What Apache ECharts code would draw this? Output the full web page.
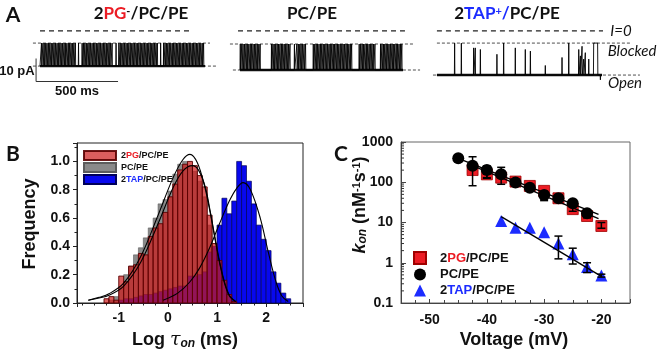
<!DOCTYPE html>
<html>
<head>
<meta charset="utf-8">
<script src="https://cdn.jsdelivr.net/npm/echarts@6/dist/echarts.min.js"></script>
<style>
html, body { margin: 0; padding: 0; background: #fff; }
#main { width: 658px; height: 356px; }
</style>
</head>
<body>
<div id="main"></div>
<script>
// ---- panel A: single-channel current traces (time in ms, current in pA) ----
// levels: [I=0, blocked, open]
var levelsPG = [0, -5.3, -15.3];
var levelsPC = [0, -5.7, -17.0];
var levelsTAP = [0, -5.3, -19.2];
// guide line extents [start, end] in ms: I=0, blocked, open
var guidesPG = [[61, 994], [18, 1098], [18, 1146]];
var guidesPC = [[61, 1079], [12, 1128], [30, 1171]];
var guidesTAP = [[30, 1043], [30, 1207], [6, 1268]];
// recorded span of each trace
var spanPG = [61, 1067];
var spanPC = [73, 1067];
var spanTAP = [30, 1037];
// blocking events (ms)
var spikesPG = [70, 79, 87, 96, 104, 113, 121, 130, 139, 147, 156, 165, 173, 182, 190, 199, 208, 216, 225, 234, 242, 251, 260, 268, 277,
    296, 318, 327, 335, 344, 353, 361, 370, 379, 388, 396, 405, 414, 422, 431, 440, 449, 457, 466, 475, 483, 492, 501,
    525, 542, 551, 560, 568, 577, 586, 594, 603, 612, 621, 629, 638, 647, 655, 664, 673, 682, 690, 699, 708, 716, 725, 734, 743, 751, 760, 769, 777,
    797, 815, 824, 833, 841, 850, 859, 868, 876, 885, 894, 902, 911, 920, 929, 937, 946, 955, 963, 972, 981, 990, 998, 1007, 1016, 1024, 1033, 1042, 1051, 1059];
var spikesPC = [75, 84, 92, 101, 110, 118, 127, 136, 144, 153, 162, 170, 179, 188, 196,
    265, 274, 282, 291, 300, 308, 317, 326, 334, 343, 352, 360, 369, 378,
    405, 420, 429, 438, 446, 455, 464, 473,
    520, 529, 538, 546, 555, 564, 572, 581, 590, 598, 607, 616, 624, 633, 642, 650, 659, 668, 676, 685, 694, 702, 711, 720, 728, 737, 746, 754,
    800, 809, 818, 826, 835, 844, 852, 861, 870, 878, 887, 896,
    930, 939, 948, 956, 965, 974, 982, 991, 1000, 1008, 1017, 1026, 1034, 1043, 1052, 1060];
// [time ms, fraction of full block, dwell ms]
var spikesTAP = [[138, 1], [179, 1], [254, 0.85], [264, 0.85], [295, 0.8], [396, 0.65], [437, 1], [508, 0.85], [569, 0.8],
    [600, 0.75], [691, 0.3], [793, 0.55], [834, 1], [895, 0.8], [905, 0.6], [915, 0.9], [925, 0.5], [935, 0.7], [956, 0.5],
    [986, 1, 24], [1027, -0.15]];
// scale bar: 10 pA / 500 ms
var scaleBar = [[37, -12], [37, -22], [537, -22]];

// ---- panel B: dwell-time histograms ----
var binWidth = 0.1;
var binCenters = [-1.25, -1.15, -1.05, -0.95, -0.85, -0.75, -0.65, -0.55, -0.45, -0.35, -0.25, -0.15, -0.05,
    0.05, 0.15, 0.25, 0.35, 0.45, 0.55, 0.65, 0.75, 0.85, 0.95, 1.05, 1.15, 1.25, 1.35, 1.45, 1.55, 1.65, 1.75,
    1.85, 1.95, 2.05, 2.15, 2.25, 2.35, 2.45];
var histPG = [0.03, 0.045, 0.02, 0.19, 0.15, 0.26, 0.27, 0.35, 0.34, 0.47, 0.53, 0.56, 0.64,
    0.75, 0.84, 0.94, 0.98, 1.0, 0.97, 0.90, 0.82, 0.62, 0.42, 0.30, 0.16, 0.06, 0.01, 0, 0, 0, 0,
    0, 0, 0, 0, 0, 0, 0];
var histPC = [0, 0.02, 0.045, 0.115, 0.20, 0.26, 0.34, 0.39, 0.46, 0.53, 0.60, 0.70, 0.73,
    0.79, 0.91, 0.98, 1.0, 0.97, 0.93, 0.86, 0.75, 0.55, 0.36, 0.18, 0.07, 0.02, 0, 0, 0, 0, 0,
    0, 0, 0, 0, 0, 0, 0];
var histTAP = [0, 0, 0, 0.02, 0.03, 0.03, 0.04, 0.05, 0.06, 0.06, 0.07, 0.08, 0.09,
    0.10, 0.11, 0.12, 0.12, 0.19, 0.19, 0.20, 0.22, 0.36, 0.40, 0.55, 0.74, 0.63, 0.72, 1.0, 0.97, 0.86, 0.70,
    0.55, 0.45, 0.37, 0.22, 0.14, 0.07, 0.03];
var fitPC = [[-1.62, 0.02], [-1.4, 0.04], [-1.2, 0.065], [-0.9, 0.14], [-0.55, 0.33], [-0.2, 0.62], [0.1, 0.88],
    [0.3, 1.01], [0.45, 1.05], [0.6, 0.99], [0.75, 0.82], [0.86, 0.64], [0.96, 0.45], [1.06, 0.27], [1.16, 0.13],
    [1.26, 0.045], [1.38, 0.01]];
var fitPG = [[-1.62, 0.02], [-1.4, 0.035], [-1.2, 0.055], [-0.9, 0.12], [-0.55, 0.29], [-0.2, 0.56], [0.1, 0.81],
    [0.3, 0.93], [0.5, 0.97], [0.62, 0.94], [0.76, 0.82], [0.86, 0.65], [0.96, 0.46], [1.06, 0.28], [1.16, 0.14],
    [1.26, 0.05], [1.38, 0.01]];
var fitTAP = [[-0.1, 0.02], [0.2, 0.07], [0.45, 0.15], [0.65, 0.25], [0.85, 0.39], [1.05, 0.56], [1.25, 0.72],
    [1.4, 0.81], [1.53, 0.85], [1.68, 0.8], [1.88, 0.6], [2.05, 0.35], [2.2, 0.15], [2.32, 0.05], [2.45, 0.01]];

// ---- panel C: kon vs voltage ----
var voltPG = [-42.5, -40, -37.5, -35, -32.5, -30, -27.5, -25, -22.5, -20];
var konPG = [201, 157, 130, 104, 81, 61, 40, 21.5, 14.5, 8.2];
var voltPC = [-45, -42.5, -40, -37.5, -35, -32.5, -30, -27.5, -25, -22.5];
var konPC = [393, 258, 201, 157, 98, 73, 48, 40, 30, 17];
var voltTAP = [-37.5, -35, -32.5, -30, -27.5, -25, -22.5, -20];
var konTAP = [10.9, 7.4, 7.4, 5.7, 3.0, 1.62, 0.78, 0.48];
// [voltage, low, high]
var errPG = [[-40, 130, 200], [-25, 19, 25], [-22.5, 13, 16.5], [-20, 7.2, 10]];
var errPC = [[-42.5, 82, 430], [-40, 125, 254], [-37.5, 89, 235], [-30, 35, 60], [-25, 26, 34], [-22.5, 15, 20]];
var errTAP = [[-27.5, 1.25, 4.6], [-25, 0.93, 2.3], [-22.5, 0.57, 1.0], [-20, 0.44, 0.52]];
var lineFitPC = [[-45, 390], [-20.5, 16]];
var lineFitPG = [[-42.5, 260], [-20.5, 12.5]];
var lineFitTAP = [[-37.5, 14], [-20, 0.46]];
var logMinorTicks = [0.2, 0.3, 0.4, 0.5, 0.6, 0.7, 0.8, 0.9, 2, 3, 4, 5, 6, 7, 8, 9, 20, 30, 40, 50, 60, 70, 80, 90,
    200, 300, 400, 500, 600, 700, 800, 900];

var RED = '#ec1c24';
var BLUE = '#1c2cff';
var FT = 'Lato, "Noto Sans", sans-serif';
var FA = '"Liberation Sans", Arial, sans-serif';

function traceLine(events, lv, span) {
    var open = lv[2], blocked = lv[1];
    var pts = [[span[0], open]];
    events.forEach(function (e) {
        var t = typeof e === 'number' ? e : e[0];
        var f = typeof e === 'number' ? 1 : e[1];
        var d = typeof e === 'number' ? 0 : (e[2] || 0);
        var peak = open + f * (blocked - open);
        pts.push([t - 1.5, open], [t, peak]);
        if (d) pts.push([t + d, peak]);
        pts.push([t + d + 1.5, open]);
    });
    pts.push([span[1], open]);
    return pts;
}

function traceSeries(idx, events, lv, span, guides) {
    var out = [];
    var dashStyles = [
        {color: '#222', width: 1.2, type: [5, 4]},
        {color: '#222', width: 0.8, type: [3, 2]},
        {color: '#222', width: 0.8, type: [3, 2]}
    ];
    guides.forEach(function (g, i) {
        out.push({
            type: 'line', xAxisIndex: idx, yAxisIndex: idx, symbol: 'none', silent: true,
            lineStyle: dashStyles[i],
            data: [[g[0], lv[i]], [g[1], lv[i]]]
        });
    });
    out.push({
        type: 'line', xAxisIndex: idx, yAxisIndex: idx, symbol: 'none', silent: true,
        lineStyle: {color: '#111', width: 2.4},
        data: [[span[0], lv[2]], [span[1], lv[2]]]
    });
    out.push({
        type: 'line', xAxisIndex: idx, yAxisIndex: idx, symbol: 'none', silent: true,
        lineStyle: {color: '#000', width: 0.9},
        data: traceLine(events, lv, span)
    });
    return out;
}

function histItem(params, api) {
    var x = api.value(0), y = api.value(1);
    if (!(y > 0)) return null;
    var p0 = api.coord([x - binWidth / 2, y]);
    var p1 = api.coord([x + binWidth / 2, 0]);
    return {
        type: 'rect',
        shape: {x: p0[0], y: p0[1], width: p1[0] - p0[0], height: p1[1] - p0[1]},
        style: api.style()
    };
}

function errItem(params, api) {
    var x = api.value(0);
    var lo = api.coord([x, api.value(1)]);
    var hi = api.coord([x, api.value(2)]);
    var w = 4;
    var st = {stroke: '#000', lineWidth: 1.5};
    return {
        type: 'group', children: [
            {type: 'line', shape: {x1: lo[0], y1: lo[1], x2: hi[0], y2: hi[1]}, style: st},
            {type: 'line', shape: {x1: lo[0] - w, y1: lo[1], x2: lo[0] + w, y2: lo[1]}, style: st},
            {type: 'line', shape: {x1: hi[0] - w, y1: hi[1], x2: hi[0] + w, y2: hi[1]}, style: st}
        ]
    };
}

function minorTickItem(params, api) {
    var p = api.coord([-55, api.value(0)]);
    return {type: 'line', shape: {x1: p[0], y1: p[1], x2: p[0] + 3, y2: p[1]}, style: {stroke: '#333', lineWidth: 1}};
}

function pair(xs, ys) {
    return xs.map(function (x, i) { return [x, ys[i]]; });
}

function histData(vals) {
    return binCenters.map(function (c, i) { return [c, vals[i]]; });
}

function txt(x, y, text, rich, rot) {
    return {
        type: 'text', x: x, y: y, rotation: rot || 0, z: 100, silent: true,
        style: {text: text, rich: rich, align: 'center', verticalAlign: 'middle', textAlign: 'center', textVerticalAlign: 'middle'}
    };
}

var titleRich = {
    b: {fontFamily: FT, fontWeight: 'bold', fontSize: 17, fill: '#111', color: '#111'},
    r: {fontFamily: FT, fontWeight: 'bold', fontSize: 17, fill: RED, color: RED},
    u: {fontFamily: FT, fontWeight: 'bold', fontSize: 17, fill: BLUE, color: BLUE},
    sp: {fontFamily: FT, fontWeight: 'bold', fontSize: 11, fill: '#111', color: '#111', verticalAlign: 'top'},
    su: {fontFamily: FT, fontWeight: 'bold', fontSize: 11, fill: BLUE, color: BLUE, verticalAlign: 'top'}
};
var panelRich = {p: {fontFamily: FT, fontWeight: 'bold', fontSize: 21, fill: '#111'}};
var italRich = {i: {fontFamily: FT, fontStyle: 'italic', fontSize: 15, fill: '#111'}};
var barRich = {b: {fontFamily: FA, fontWeight: 'bold', fontSize: 13, fill: '#111'}};
var axisRich = {
    b: {fontFamily: FA, fontWeight: 'bold', fontSize: 18, fill: '#111'},
    t: {fontFamily: '"DejaVu Serif", serif', fontStyle: 'italic', fontSize: 19, fill: '#111'},
    i: {fontFamily: FA, fontWeight: 'bold', fontStyle: 'italic', fontSize: 18, fill: '#111'},
    s: {fontFamily: FA, fontWeight: 'bold', fontStyle: 'italic', fontSize: 12, fill: '#111', verticalAlign: 'bottom'},
    up: {fontFamily: FA, fontWeight: 'bold', fontSize: 11, fill: '#111', verticalAlign: 'top'}
};

var legendRichB = {
    b: {fontFamily: FA, fontWeight: 'bold', fontSize: 9, color: '#111'},
    r: {fontFamily: FA, fontWeight: 'bold', fontSize: 9, color: RED},
    u: {fontFamily: FA, fontWeight: 'bold', fontSize: 9, color: BLUE}
};
var legendRichC = {
    g: {width: 9},
    b: {fontFamily: FA, fontWeight: 'bold', fontSize: 13, color: '#111'},
    r: {fontFamily: FA, fontWeight: 'bold', fontSize: 13, color: RED},
    u: {fontFamily: FA, fontWeight: 'bold', fontSize: 13, color: BLUE}
};
var legendNames = {
    hPG: '{b|2}{r|PG}{b|/PC/PE}', hPC: '{b|PC/PE}', hTAP: '{b|2}{u|TAP}{b|/PC/PE}',
    cPG: '{g|}{b|2}{r|PG}{b|/PC/PE}', cPC: '{g|}{b|PC/PE}', cTAP: '{g|}{b|2}{u|TAP}{b|/PC/PE}'
};

var tickLabel = {fontFamily: FA, fontWeight: 'bold', fontSize: 14, color: '#111'};

var series = [];
series = series.concat(traceSeries(0, spikesPG, levelsPG, spanPG, guidesPG));
series = series.concat(traceSeries(1, spikesPC, levelsPC, spanPC, guidesPC));
series = series.concat(traceSeries(2, spikesTAP, levelsTAP, spanTAP, guidesTAP));
series.push({
    type: 'line', xAxisIndex: 0, yAxisIndex: 0, symbol: 'none', silent: true,
    lineStyle: {color: '#333', width: 1}, data: scaleBar
});

// panel B
series.push({
    name: 'hPC', type: 'custom', xAxisIndex: 3, yAxisIndex: 3, renderItem: histItem,
    itemStyle: {color: '#8a8a8a', borderColor: '#5c5c5c', borderWidth: 0.6},
    encode: {x: 0, y: 1}, data: histData(histPC)
});
series.push({
    name: 'hTAP', type: 'custom', xAxisIndex: 3, yAxisIndex: 3, renderItem: histItem,
    itemStyle: {color: '#0808ee', borderColor: '#00005a', borderWidth: 0.7},
    encode: {x: 0, y: 1}, data: histData(histTAP)
});
series.push({
    name: 'hPG', type: 'custom', xAxisIndex: 3, yAxisIndex: 3, renderItem: histItem,
    itemStyle: {color: 'rgba(205,25,25,0.7)', borderColor: 'rgba(90,0,0,0.9)', borderWidth: 1},
    encode: {x: 0, y: 1}, data: histData(histPG)
});
[fitPC, fitPG, fitTAP].forEach(function (f) {
    series.push({
        type: 'line', xAxisIndex: 3, yAxisIndex: 3, symbol: 'none', smooth: 0.35, silent: true,
        lineStyle: {color: '#000', width: 1.1}, data: f
    });
});

// panel C
series.push({
    name: 'cPG', type: 'scatter', xAxisIndex: 4, yAxisIndex: 4, symbol: 'rect', symbolSize: 11,
    itemStyle: {color: RED, borderColor: '#a00000', borderWidth: 0.8, opacity: 1}, data: pair(voltPG, konPG)
});
series.push({
    name: 'cPC', type: 'scatter', xAxisIndex: 4, yAxisIndex: 4, symbol: 'circle', symbolSize: 12,
    itemStyle: {color: '#000', opacity: 1}, data: pair(voltPC, konPC)
});
series.push({
    name: 'cTAP', type: 'scatter', xAxisIndex: 4, yAxisIndex: 4, symbol: 'triangle', symbolSize: 12,
    itemStyle: {color: BLUE, opacity: 1}, data: pair(voltTAP, konTAP)
});
[lineFitPC, lineFitPG, lineFitTAP].forEach(function (f) {
    series.push({
        type: 'line', xAxisIndex: 4, yAxisIndex: 4, symbol: 'none', silent: true, z: 3,
        lineStyle: {color: '#000', width: 1.4}, data: f
    });
});
[errPG, errPC, errTAP].forEach(function (e) {
    series.push({
        type: 'custom', xAxisIndex: 4, yAxisIndex: 4, renderItem: errItem, silent: true, z: 4,
        encode: {x: 0, y: [1, 2]}, data: e
    });
});
series.push({
    type: 'custom', xAxisIndex: 4, yAxisIndex: 4, renderItem: minorTickItem, silent: true, z: 4,
    encode: {y: 0}, data: logMinorTicks.map(function (v) { return [v]; })
});

var hiddenX = function (idx, max) {
    return {type: 'value', gridIndex: idx, min: 0, max: max, show: false};
};
var hiddenY = function (idx) {
    return {type: 'value', gridIndex: idx, min: -27, max: 3, show: false};
};

var option = {
    animation: false,
    backgroundColor: '#fff',
    grid: [
        {left: 30, top: 24, width: 190, height: 69, outerBoundsMode: 'none'},
        {left: 228, top: 24, width: 195, height: 69, outerBoundsMode: 'none'},
        {left: 432, top: 24, width: 213, height: 69, outerBoundsMode: 'none'},
        {left: 77, top: 143, width: 226, height: 160, show: true, borderColor: '#222', borderWidth: 1, outerBoundsMode: 'none'},
        {left: 401, top: 142, width: 229, height: 161, show: true, borderColor: '#666', borderWidth: 1, outerBoundsMode: 'none'}
    ],
    xAxis: [
        hiddenX(0, 1159), hiddenX(1, 1189), hiddenX(2, 1299),
        {
            type: 'value', gridIndex: 3, min: -1.85, max: 2.75, splitNumber: 5,
            axisLine: {onZero: false, lineStyle: {color: '#222'}},
            axisTick: {length: 4, lineStyle: {color: '#222'}},
            minorTick: {show: true, splitNumber: 4, length: 2.5, lineStyle: {color: '#222'}},
            splitLine: {show: false},
            axisLabel: Object.assign({margin: 8, showMinLabel: false, showMaxLabel: false}, tickLabel)
        },
        {
            type: 'value', gridIndex: 4, min: -55, max: -15, splitNumber: 4,
            axisLine: {onZero: false, lineStyle: {color: '#444'}},
            axisTick: {inside: true, length: 4, lineStyle: {color: '#444'}},
            minorTick: {show: true, splitNumber: 4, length: 3, lineStyle: {color: '#444'}},
            splitLine: {show: false},
            axisLabel: Object.assign({margin: 10, showMinLabel: false, showMaxLabel: false}, tickLabel)
        }
    ],
    yAxis: [
        hiddenY(0), hiddenY(1), hiddenY(2),
        {
            type: 'value', gridIndex: 3, min: 0, max: 1.13, interval: 0.2,
            axisLine: {show: true, onZero: false, lineStyle: {color: '#222'}},
            axisTick: {show: true, length: 4, lineStyle: {color: '#222'}},
            minorTick: {show: true, splitNumber: 2, length: 2.5, lineStyle: {color: '#222'}},
            splitLine: {show: false},
            axisLabel: Object.assign({
                margin: 7, showMaxLabel: false,
                formatter: function (v) { return v.toFixed(1); }
            }, tickLabel)
        },
        {
            type: 'log', gridIndex: 4, logBase: 10, min: 0.1, max: 1000,
            axisLine: {show: true, onZero: false, lineStyle: {color: '#444'}},
            axisTick: {show: true, inside: true, length: 5, lineStyle: {color: '#444'}},
            splitLine: {show: false},
            axisLabel: Object.assign({
                margin: 8,
                formatter: function (v) { return v < 1 ? '0.1' : String(Math.round(v)); }
            }, tickLabel)
        }
    ],
    legend: [
        {
            left: 83, top: 150, orient: 'vertical', padding: 0, itemWidth: 32, itemHeight: 9, itemGap: 1,
            icon: 'rect', selectedMode: false, data: ['hPG', 'hPC', 'hTAP'],
            formatter: function (n) { return legendNames[n]; },
            textStyle: {fontSize: 9, lineHeight: 9, rich: legendRichB}
        },
        {
            left: 413, top: 251, orient: 'vertical', padding: 0, itemWidth: 12, itemHeight: 12, itemGap: 3,
            selectedMode: false, data: ['cPG', 'cPC', 'cTAP'],
            formatter: function (n) { return legendNames[n]; },
            textStyle: {fontSize: 13, rich: legendRichC}
        }
    ],
    graphic: [
        txt(13, 15, '{p|A}', panelRich),
        txt(13, 154, '{p|B}', panelRich),
        txt(341, 154, '{p|C}', panelRich),
        txt(141, 14, '{b|2}{r|PG}{sp|-}{b|/PC/PE}', titleRich),
        txt(312, 14, '{b|PC/PE}', titleRich),
        txt(507, 14, '{b|2}{u|TAP}{su|+}{u|/}{b|PC/PE}', titleRich),
        txt(621, 31, '{i|I=0}', italRich),
        txt(632, 51, '{i|Blocked}', italRich),
        txt(625, 83, '{i|Open}', italRich),
        txt(17, 71, '{b|10 pA}', barRich),
        txt(77, 91, '{b|500 ms}', barRich),
        txt(30, 224, '{b|Frequency}', axisRich, Math.PI / 2),
        txt(185, 340, '{b|Log }{t|τ}{s|on}{b| (ms)}', axisRich),
        txt(360, 205, '{i|k}{s|on}{b| (nM}{up|-1}{b|s}{up|-1}{b|)}', axisRich, Math.PI / 2),
        txt(514, 340, '{b|Voltage (mV)}', axisRich)
    ],
    series: series
};

var chart = echarts.init(document.getElementById('main'));
chart.setOption(option);
</script>
</body>
</html>
